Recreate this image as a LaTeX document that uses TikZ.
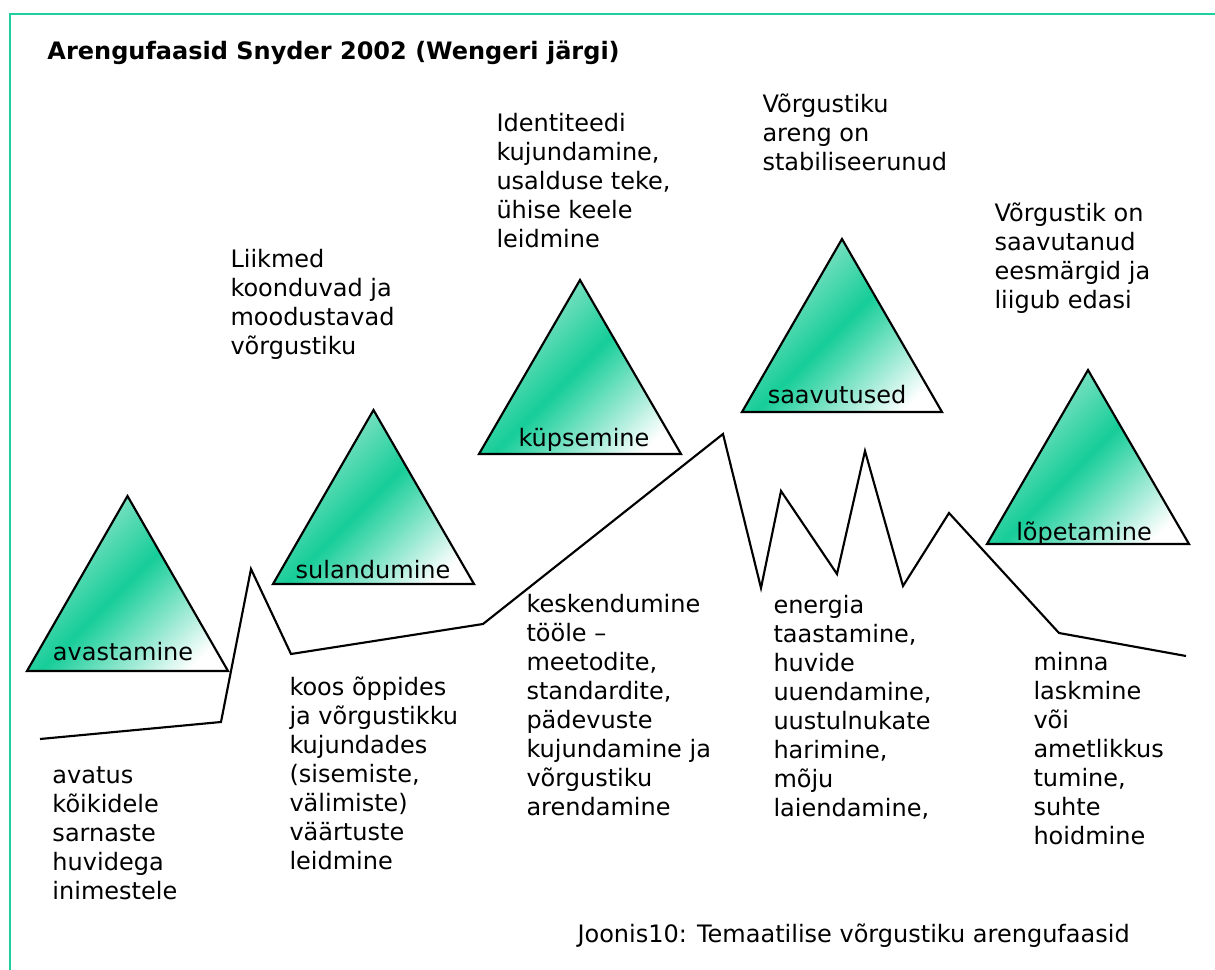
\documentclass[tikz,border=0pt]{standalone}
\usepackage{fontspec}
\setmainfont{DejaVu Sans}

\definecolor{mint}{RGB}{22,205,152}
\definecolor{mintlight}{RGB}{180,236,218}
\definecolor{framegreen}{RGB}{30,208,160}

\pgfdeclareverticalshading{phaseshade}{100bp}{color(0bp)=(white); color(22bp)=(white); color(50bp)=(mint); color(78bp)=(mintlight); color(100bp)=(mintlight)}

\tikzset{every picture/.style={line width=0.75pt}}
\tikzset{
  phase/.style={draw=black, line width=1.6pt, shading=phaseshade, shading angle=45},
  txt/.style={anchor=north west, inner sep=0pt, align=left, font=\fontsize{18}{21.75}\selectfont},
  lbl/.style={anchor=base, inner sep=0pt, font=\fontsize{18}{21.75}\selectfont},
}

\begin{document}
\begin{tikzpicture}[x=0.75pt,y=0.75pt,yscale=-1,xscale=1]
\useasboundingbox (0,0) rectangle (1215,970);

%Frame
\draw [color=framegreen, line width=2pt] (1215,14) -- (10,14) -- (10,970) ;

%Shape: Triangle [avastamine]
\shadedraw [phase] (27,671) -- (127.5,496) -- (228,671) -- cycle ;
%Shape: Triangle [sulandumine]
\shadedraw [phase] (273,584) -- (373.5,410) -- (474,584) -- cycle ;
%Shape: Triangle [kupsemine]
\shadedraw [phase] (479,454) -- (580,280) -- (681,454) -- cycle ;
%Shape: Triangle [saavutused]
\shadedraw [phase] (742,412) -- (842,239) -- (942,412) -- cycle ;
%Shape: Triangle [lopetamine]
\shadedraw [phase] (987,544) -- (1088,370) -- (1189,544) -- cycle ;

%Straight Lines [zigzag]
\draw [line width=1.6pt] (40,739) -- (221,722) -- (251,569) -- (291,654) -- (483,624) -- (723,434) -- (761,588) -- (781,491) -- (837,574) -- (865,451) -- (903,586) -- (949,513) -- (1059,633) -- (1186,656) ;

% Text Node
\node [lbl, anchor=base west, font=\fontsize{18}{21.75}\selectfont\bfseries] (title) at (47,60) {Arengufaasid Snyder 2002 (Wengeri järgi)};
% Text Node
\node [lbl] (avastamine) at (123,660) {avastamine};
% Text Node
\node [lbl] (sulandumine) at (373,578) {sulandumine};
% Text Node
\node [lbl] (kupsemine) at (584,446) {küpsemine};
% Text Node
\node [lbl] (saavutused) at (837,403) {saavutused};
% Text Node
\node [lbl] (lopetamine) at (1084,540) {lõpetamine};
% Text Node
\node [txt] (ylal1) at (230,247) {\strut Liikmed\\koonduvad ja\\moodustavad\\võrgustiku};
% Text Node
\node [txt] (ylal2) at (496,111) {\strut Identiteedi\\kujundamine,\\usalduse teke,\\ühise keele\\leidmine};
% Text Node
\node [txt] (ylal3) at (762,92) {\strut Võrgustiku\\areng on\\stabiliseerunud};
% Text Node
\node [txt] (ylal4) at (994,201) {\strut Võrgustik on\\saavutanud\\eesmärgid ja\\liigub edasi};
% Text Node
\node [txt] (all1) at (52,763) {\strut avatus\\kõikidele\\sarnaste\\huvidega\\inimestele};
% Text Node
\node [txt] (all2) at (289,675) {\strut koos õppides\\ja võrgustikku\\kujundades\\(sisemiste,\\välimiste)\\väärtuste\\leidmine};
% Text Node
\node [txt] (all3) at (526,592) {\strut keskendumine\\tööle –\\meetodite,\\standardite,\\pädevuste\\kujundamine ja\\võrgustiku\\arendamine};
% Text Node
\node [txt] (all4) at (773,593) {\strut energia\\taastamine,\\huvide\\uuendamine,\\uustulnukate\\harimine,\\mõju\\laiendamine,};
% Text Node
\node [txt] (all5) at (1033,650) {\strut minna\\laskmine\\või\\ametlikkus\\tumine,\\suhte\\hoidmine};
% Text Node
\node [lbl, anchor=base west] (joonis) at (577,942) {Joonis10: Temaatilise võrgustiku arengufaasid};

\end{tikzpicture}
\end{document}
